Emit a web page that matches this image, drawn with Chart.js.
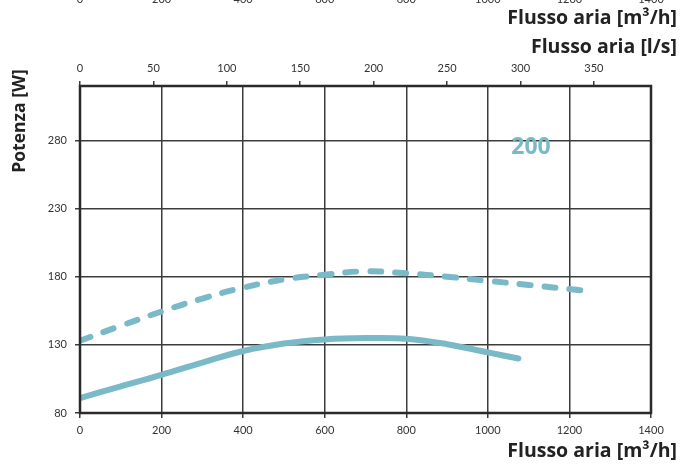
<!DOCTYPE html>
<html>
<head>
<meta charset="utf-8">
<script src="https://cdn.jsdelivr.net/npm/chart.js@4"></script>
<style>
  html, body { margin: 0; padding: 0; background: #ffffff; }
  #wrap { width: 680px; height: 464px; }
</style>
</head>
<body>
<div id="wrap"><canvas id="myPlot1" width="680" height="464"></canvas></div>
<script>
// tick labels
const flowTicks = [0, 200, 400, 600, 800, 1000, 1200, 1400]
const lsTicks = [0, 50, 100, 150, 200, 250, 300, 350]
const powerTicks = [80, 130, 180, 230, 280]

// curva continua
const flowSolid = [0, 100, 200, 300, 400, 500, 600, 700, 800, 900, 1000, 1075]
const powerSolid = [91, 99.5, 108, 117, 125.5, 131, 134, 135, 134.5, 130.5, 124.5, 120]

// curva tratteggiata
const flowDashed = [0, 100, 200, 300, 400, 500, 600, 700, 800, 900, 1000, 1100, 1230]
const powerDashed = [133, 144, 154.5, 164, 172, 178, 181.5, 184, 182.5, 180, 177, 174, 170]

const curveColor = '#7ab9c7'
const gridColor = '#3c3c3c'
const tickFont = {family: 'Lato', size: 11}

const toPoints = (xs, ys) => xs.map((x, i) => ({x: x, y: ys[i]}))

const plugin = {
  id: 'extraText',
  beforeDraw: (chart) => {
    const {ctx} = chart
    ctx.save()
    ctx.fillStyle = '#ffffff'
    ctx.fillRect(0, 0, chart.width, chart.height)
    ctx.restore()
  },
  afterDraw: (chart) => {
    const {ctx, chartArea, scales} = chart
    ctx.save()
    // cornice
    ctx.strokeStyle = '#2a2a2a'
    ctx.lineWidth = 2.5
    ctx.strokeRect(chartArea.left, chartArea.top, chartArea.right - chartArea.left, chartArea.bottom - chartArea.top)

    // etichette tagliate in alto (grafico precedente)
    ctx.fillStyle = '#333333'
    ctx.font = '11px Lato'
    ctx.textAlign = 'center'
    ctx.textBaseline = 'middle'
    flowTicks.forEach(v => ctx.fillText(String(v), scales.x.getPixelForValue(v), -1))

    ctx.fillStyle = '#222222'
    ctx.font = 'bold 19.5px "Open Sans"'
    ctx.textAlign = 'right'
    ctx.fillText('Flusso aria [m\u00b3/h]', 677, 18)
    ctx.fillText('Flusso aria [l/s]', 677, 47)
    ctx.fillText('Flusso aria [m\u00b3/h]', 677, 451)

    ctx.save()
    ctx.translate(20, 121)
    ctx.rotate(-Math.PI / 2)
    ctx.textAlign = 'center'
    ctx.font = 'bold 17.5px "Open Sans"'
    ctx.fillText('Potenza [W]', 0, 0)
    ctx.restore()

    ctx.fillStyle = curveColor
    ctx.font = 'bold 23px "Open Sans"'
    ctx.textAlign = 'center'
    ctx.fillText('200', 531, 147)
    ctx.restore()
  }
}

new Chart(
  "myPlot1",
  {
    type: "line",
    data: {
      datasets: [
        {
          data: toPoints(flowSolid, powerSolid),
          borderColor: curveColor,
          borderWidth: 6,
          pointRadius: 0,
          tension: 0.4,
          borderCapStyle: 'round'
        },
        {
          data: toPoints(flowDashed, powerDashed),
          borderColor: curveColor,
          borderWidth: 6,
          pointRadius: 0,
          tension: 0.4,
          borderCapStyle: 'round',
          borderDash: [11, 14]
        }
      ]
    },
    options: {
      responsive: false,
      animation: false,
      layout: {padding: {left: 0, right: 29, top: 0, bottom: 0}},
      scales: {
        x: {
          type: 'linear',
          position: 'bottom',
          min: 0,
          max: 1400,
          afterBuildTicks: (axis) => { axis.ticks = flowTicks.map(v => ({value: v})) },
          afterFit: (axis) => { axis.height = 51 },
          ticks: {color: '#333333', font: tickFont, padding: 6, maxRotation: 0, autoSkip: false,
                  callback: (v) => String(v)},
          grid: {color: gridColor, lineWidth: 1.5, tickLength: 5, tickColor: gridColor},
          border: {display: false}
        },
        x2: {
          type: 'linear',
          position: 'top',
          min: 0,
          max: 1400 / 3.6,
          afterBuildTicks: (axis) => { axis.ticks = lsTicks.map(v => ({value: v})) },
          afterFit: (axis) => { axis.height = 86 },
          ticks: {color: '#333333', font: tickFont, padding: 6, maxRotation: 0, autoSkip: false,
                  callback: (v) => String(v)},
          grid: {drawOnChartArea: false, color: gridColor, lineWidth: 1.5, tickLength: 5},
          border: {display: false}
        },
        y: {
          type: 'linear',
          min: 80,
          max: 320,
          afterBuildTicks: (axis) => { axis.ticks = powerTicks.map(v => ({value: v})) },
          afterFit: (axis) => { axis.width = 80 },
          ticks: {color: '#333333', font: tickFont, padding: 8, callback: (v) => String(v)},
          grid: {color: gridColor, lineWidth: 1.5, tickLength: 5},
          border: {display: false}
        }
      },
      plugins: {
        legend: {display: false},
        tooltip: {enabled: false}
      }
    },
    plugins: [plugin],
  }
)
</script>
</body>
</html>
